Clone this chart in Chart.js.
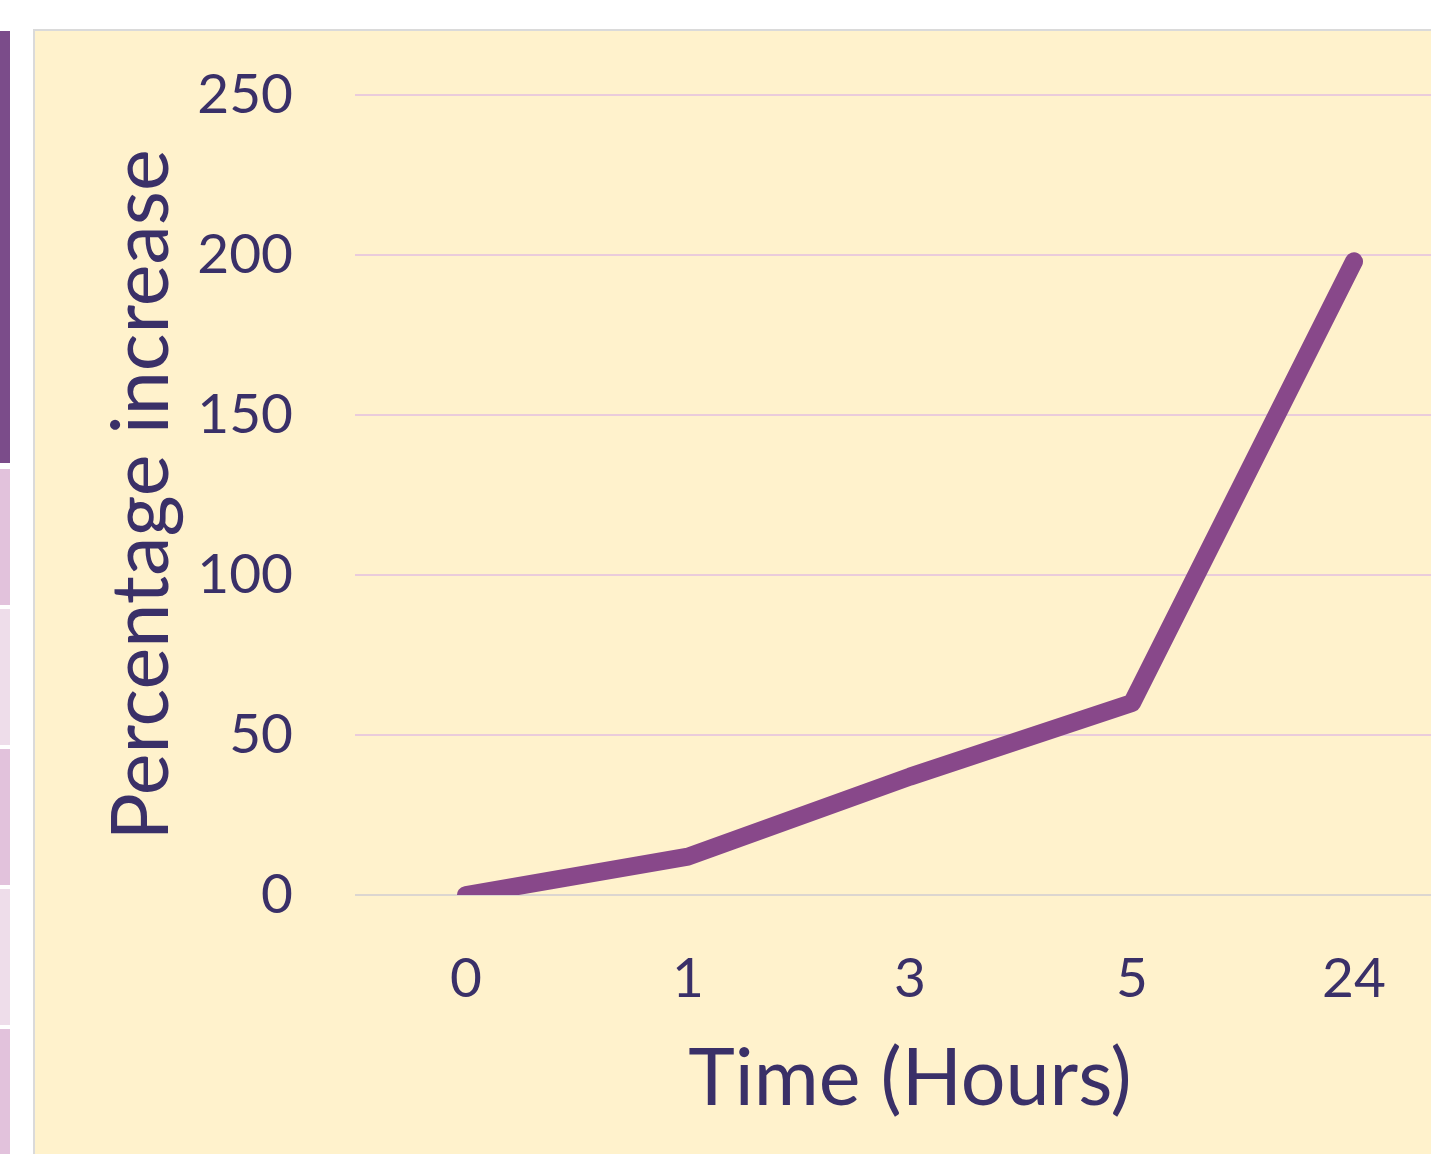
<!DOCTYPE html>
<html>
<head>
<meta charset="utf-8">
<script src="https://cdn.jsdelivr.net/npm/chart.js@4.4.0/dist/chart.umd.min.js"></script>
<style>
  html, body { margin: 0; padding: 0; background: #fff; overflow: hidden; }
  body { width: 1431px; height: 1154px; position: relative; }
  .strip { position: absolute; left: 0; width: 10px; }
  #box { position: absolute; left: 33px; top: 29px; width: 1450px; height: 1140px;
         background: #FFF2CC; border-left: 2px solid #DADADA; border-top: 2px solid #DADADA; }
  #wrap { position: absolute; left: 36px; top: 0; width: 1440px; height: 1154px; }
</style>
</head>
<body>
<div class="strip" style="top:31px;height:432px;background:#7B4C8A"></div>
<div class="strip" style="top:469px;height:136px;background:#E2C2DC"></div>
<div class="strip" style="top:609px;height:136px;background:#EEDDEA"></div>
<div class="strip" style="top:749px;height:136px;background:#E2C2DC"></div>
<div class="strip" style="top:889px;height:136px;background:#EEDDEA"></div>
<div class="strip" style="top:1029px;height:130px;background:#E2C2DC"></div>
<div id="box"></div>
<div id="wrap"><canvas id="c"></canvas></div>
<script>
// values
const hours = ['0', '1', '3', '5', '24'];
const increase = [0, 12, 37, 60, 198];
const yTicks = [0, 50, 100, 150, 200, 250];

const textColor = '#3A3068';
const fontFamily = 'Lato, "Open Sans", sans-serif';

new Chart(document.getElementById('c'), {
  type: 'line',
  data: {
    labels: hours,
    datasets: [{
      data: increase,
      borderColor: '#88488A',
      borderWidth: 18,
      borderCapStyle: 'round',
      borderJoinStyle: 'round',
      pointRadius: 0,
      tension: 0,
      clip: 0
    }]
  },
  options: {
    responsive: true,
    maintainAspectRatio: false,
    animation: false,
    // top of the plot comes from the y tick padding (label half-height + 62)
    layout: { padding: { top: 0, right: 11, left: 0, bottom: 0 } },
    plugins: { legend: { display: false }, tooltip: { enabled: false } },
    scales: {
      x: {
        offset: true,
        grid: { display: false },
        border: { display: false },
        ticks: { color: textColor, font: { family: fontFamily, size: 55 }, padding: 43 },
        title: { display: true, text: 'Time (Hours)', color: textColor,
                 font: { family: fontFamily, size: 79 }, padding: { top: 0, bottom: 27 } },
        afterFit: (s) => { s.height = 259; }
      },
      y: {
        min: 0,
        max: 250,
        afterBuildTicks: (s) => { s.ticks = yTicks.map(v => ({ value: v })); },
        grid: {
          drawTicks: false,
          lineWidth: 2,
          color: (ctx) => ctx.tick && ctx.tick.value === 0 ? '#DCD6D0' : '#EACCDB'
        },
        border: { display: false },
        ticks: { color: textColor, font: { family: fontFamily, size: 55 }, padding: 62 },
        title: { display: true, text: 'Percentage increase', color: textColor,
                 font: { family: fontFamily, size: 79 }, padding: { top: 59, bottom: 0 } },
        afterFit: (s) => { s.width = 319; }
      }
    }
  }
});
</script>
</body>
</html>
